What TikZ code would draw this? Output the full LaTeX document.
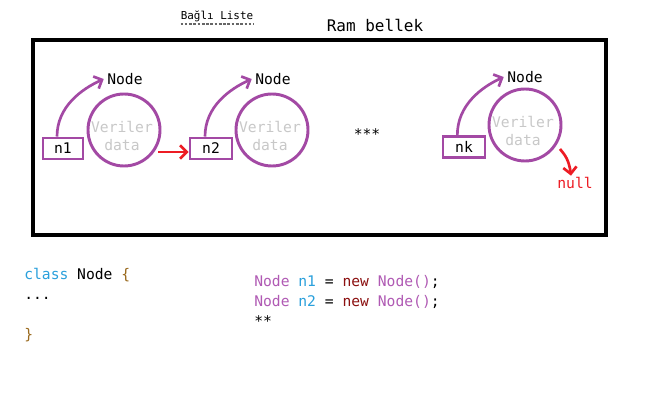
\documentclass[tikz,border=0pt]{standalone}
\usepackage{fontspec}
\setmainfont{DejaVu Sans Mono}
\usetikzlibrary{arrows.meta}
\definecolor{pp}{HTML}{A349A4}
\definecolor{rd}{HTML}{ED1C24}
\definecolor{gy}{HTML}{C8C8C8}
\definecolor{kwblue}{HTML}{2AA0DC}
\definecolor{kwpurple}{HTML}{B05AB4}
\definecolor{kwred}{HTML}{8B1010}
\definecolor{brace}{HTML}{9A6A1E}
\newcommand{\fsz}[1]{\fontsize{#1}{#1}\selectfont}
\tikzset{
  pcircle/.style={circle, draw=pp, line width=2.2pt, minimum size=54pt, inner sep=0pt},
  pbox/.style={draw=pp, line width=2.2pt, minimum height=15.75pt, inner sep=0pt, font=\fsz{11}},
  lbl/.style={font=\fsz{11}, inner sep=1.5pt},
  datatxt/.style={font=\fsz{11}, text=gy, align=center, inner sep=0pt},
  parrow/.style={draw=pp, line width=2pt, -{Straight Barb[length=5pt,width=10pt]}},
  rarrow/.style={draw=rd, line width=2pt, -{Straight Barb[length=5pt,width=10pt]}},
  code/.style={font=\fsz{11}, anchor=base west, inner sep=0pt},
}
\begin{document}
\begin{tikzpicture}[x=0.75pt,y=-0.75pt]
\useasboundingbox (0,0) rectangle (651,406);
\fill[white] (0,0) rectangle (651,406);
% frame
\draw[line width=3pt] (33,40) rectangle (606,235);
\node[font=\fsz{8.2}, inner sep=0] (title) at (217,16) {Bağlı Liste};
\draw[gray!80!black, line width=0.8pt, dash pattern=on 2pt off 1.2pt] (title.south west |- 0,24) coordinate (ul1) -- (ul1 -| title.south east);
\node[font=\fsz{12}, inner sep=0] (ram) at (375,25) {Ram bellek};
% circles
\node[pcircle] (c1) at (124,130) {};
\node[pcircle] (c2) at (272,130) {};
\node[pcircle] (c3) at (525,125) {};
\node[datatxt] (d1) at (122,136) {Veriler\\[2pt]data};
\node[datatxt] (d2) at (270,136) {Veriler\\[2pt]data};
\node[datatxt] (d3) at (523,131) {Veriler\\[2pt]data};
% boxes
\node[pbox, minimum width=30pt] (n1) at (63,148.5) {n1};
\node[pbox, minimum width=31.5pt] (n2) at (211,148.5) {n2};
\node[pbox, minimum width=31.5pt] (nk) at (464,147) {nk};
% labels
\node[lbl] (l1) at (125,79) {Node};
\node[lbl] (l2) at (273,79) {Node};
\node[lbl] (l3) at (525,77) {Node};
% arcs
\draw[parrow] ([xshift=-4.5pt]n1.north) .. controls +(0,-30) and +(-22,10) .. ([xshift=-1pt]l1.west);
\draw[parrow] ([xshift=-4.5pt]n2.north) .. controls +(0,-30) and +(-22,10) .. ([xshift=-1pt]l2.west);
\draw[parrow] ([xshift=-5pt]nk.north) .. controls +(0,-30) and +(-22,10) .. ([xshift=-1pt]l3.west);
% red arrows
\coordinate (r1) at (158,152);
\draw[rarrow] (r1) -- (r1 -| n2.west);
\node[font=\fsz{11}, text=rd, inner sep=1pt] (null) at (575,183) {null};
\coordinate (r2) at (560,149);
\draw[rarrow] (r2) .. controls (565,155) and (569,160) .. ([xshift=-3pt]null.north);
% dots
\node[font=\fsz{11}, inner sep=0] (dots) at (367,134) {***};
% code
\node[code] (cl) at (24,280) {\textcolor{kwblue}{class} Node \textcolor{brace}{\{}};
\node[code] (cd) at (24,300) {...};
\node[code] (cb) at (24,340) {\textcolor{brace}{\}}};
\node[code] (s1) at (254,287) {\textcolor{kwpurple}{Node} \textcolor{kwblue}{n1} = \textcolor{kwred}{new} \textcolor{kwpurple}{Node()};};
\node[code] (s2) at (254,307) {\textcolor{kwpurple}{Node} \textcolor{kwblue}{n2} = \textcolor{kwred}{new} \textcolor{kwpurple}{Node()};};
\node[code] (s3) at (254,327) {**};
\end{tikzpicture}
\end{document}
